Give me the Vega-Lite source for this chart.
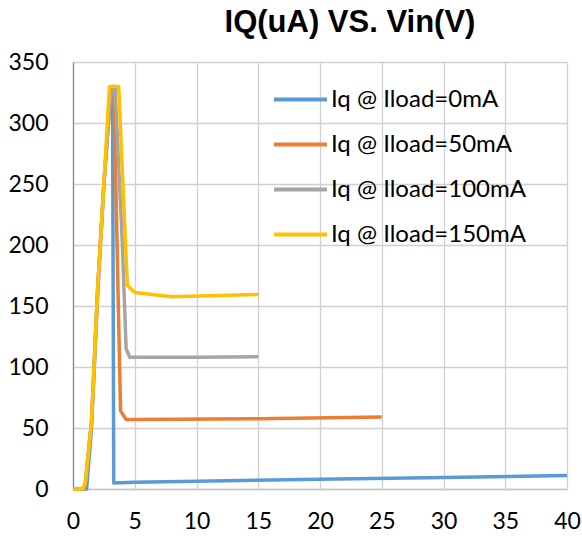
{
  "$schema": "https://vega.github.io/schema/vega-lite/v6.json",
  "width": 494,
  "height": 427,
  "autosize": "none",
  "padding": {"left": 73, "top": 62, "right": 15, "bottom": 47},
  "background": "white",
  "title": {
    "text": "IQ(uA) VS. Vin(V)",
    "font": "Liberation Sans",
    "fontSize": 31,
    "fontWeight": "bold",
    "color": "#000000",
    "anchor": "middle",
    "dx": 30,
    "offset": 12
  },
  "data": {
    "values": [
      {"vin": 0, "iq": 0, "s": "Iq @ Iload=0mA"},
      {"vin": 1.1, "iq": 0, "s": "Iq @ Iload=0mA"},
      {"vin": 1.5, "iq": 50, "s": "Iq @ Iload=0mA"},
      {"vin": 2, "iq": 160, "s": "Iq @ Iload=0mA"},
      {"vin": 2.5, "iq": 250, "s": "Iq @ Iload=0mA"},
      {"vin": 3, "iq": 318, "s": "Iq @ Iload=0mA"},
      {"vin": 3.2, "iq": 329, "s": "Iq @ Iload=0mA"},
      {"vin": 3.3, "iq": 5, "s": "Iq @ Iload=0mA"},
      {"vin": 5, "iq": 5.5, "s": "Iq @ Iload=0mA"},
      {"vin": 10, "iq": 6.3, "s": "Iq @ Iload=0mA"},
      {"vin": 20, "iq": 8, "s": "Iq @ Iload=0mA"},
      {"vin": 30, "iq": 9.5, "s": "Iq @ Iload=0mA"},
      {"vin": 40, "iq": 11, "s": "Iq @ Iload=0mA"},

      {"vin": 0, "iq": 0, "s": "Iq @ Iload=50mA"},
      {"vin": 0.9, "iq": 0, "s": "Iq @ Iload=50mA"},
      {"vin": 1.0, "iq": 5, "s": "Iq @ Iload=50mA"},
      {"vin": 1.5, "iq": 55, "s": "Iq @ Iload=50mA"},
      {"vin": 2, "iq": 165, "s": "Iq @ Iload=50mA"},
      {"vin": 2.5, "iq": 250, "s": "Iq @ Iload=50mA"},
      {"vin": 3, "iq": 320, "s": "Iq @ Iload=50mA"},
      {"vin": 3.3, "iq": 330, "s": "Iq @ Iload=50mA"},
      {"vin": 3.85, "iq": 64, "s": "Iq @ Iload=50mA"},
      {"vin": 4.3, "iq": 57, "s": "Iq @ Iload=50mA"},
      {"vin": 5, "iq": 57, "s": "Iq @ Iload=50mA"},
      {"vin": 15, "iq": 57.5, "s": "Iq @ Iload=50mA"},
      {"vin": 25, "iq": 59, "s": "Iq @ Iload=50mA"},

      {"vin": 0, "iq": 0, "s": "Iq @ Iload=100mA"},
      {"vin": 0.8, "iq": 0, "s": "Iq @ Iload=100mA"},
      {"vin": 1.0, "iq": 5, "s": "Iq @ Iload=100mA"},
      {"vin": 1.5, "iq": 55, "s": "Iq @ Iload=100mA"},
      {"vin": 2, "iq": 165, "s": "Iq @ Iload=100mA"},
      {"vin": 2.5, "iq": 250, "s": "Iq @ Iload=100mA"},
      {"vin": 3, "iq": 320, "s": "Iq @ Iload=100mA"},
      {"vin": 3.4, "iq": 330, "s": "Iq @ Iload=100mA"},
      {"vin": 4.0, "iq": 200, "s": "Iq @ Iload=100mA"},
      {"vin": 4.3, "iq": 115, "s": "Iq @ Iload=100mA"},
      {"vin": 4.6, "iq": 108, "s": "Iq @ Iload=100mA"},
      {"vin": 5, "iq": 108, "s": "Iq @ Iload=100mA"},
      {"vin": 10, "iq": 108, "s": "Iq @ Iload=100mA"},
      {"vin": 15, "iq": 108.5, "s": "Iq @ Iload=100mA"},

      {"vin": 0, "iq": 0, "s": "Iq @ Iload=150mA"},
      {"vin": 0.8, "iq": 0, "s": "Iq @ Iload=150mA"},
      {"vin": 1.0, "iq": 5, "s": "Iq @ Iload=150mA"},
      {"vin": 1.5, "iq": 55, "s": "Iq @ Iload=150mA"},
      {"vin": 2, "iq": 165, "s": "Iq @ Iload=150mA"},
      {"vin": 2.5, "iq": 250, "s": "Iq @ Iload=150mA"},
      {"vin": 2.95, "iq": 330, "s": "Iq @ Iload=150mA"},
      {"vin": 3.7, "iq": 330, "s": "Iq @ Iload=150mA"},
      {"vin": 4.4, "iq": 167, "s": "Iq @ Iload=150mA"},
      {"vin": 5, "iq": 161, "s": "Iq @ Iload=150mA"},
      {"vin": 8, "iq": 157.5, "s": "Iq @ Iload=150mA"},
      {"vin": 15, "iq": 159.5, "s": "Iq @ Iload=150mA"}
    ]
  },
  "mark": {"type": "line", "strokeWidth": 3.5, "strokeJoin": "round"},
  "encoding": {
    "x": {
      "field": "vin",
      "type": "quantitative",
      "scale": {"domain": [0, 40], "nice": false},
      "axis": {
        "title": null,
        "values": [0, 5, 10, 15, 20, 25, 30, 35, 40],
        "grid": true,
        "gridColor": "#d0d0d0",
        "gridWidth": 1.3,
        "domainColor": "#c8c8c8",
        "domainWidth": 1.3,
        "ticks": false,
        "labelFlush": false,
        "labelPadding": 21,
        "labelFont": "Lato",
        "labelFontSize": 23,
        "labelColor": "#000000"
      }
    },
    "y": {
      "field": "iq",
      "type": "quantitative",
      "scale": {"domain": [0, 350], "nice": false},
      "axis": {
        "title": null,
        "values": [0, 50, 100, 150, 200, 250, 300, 350],
        "grid": true,
        "gridColor": "#d0d0d0",
        "gridWidth": 1.3,
        "domainColor": "#8c8c8c",
        "domainWidth": 1.3,
        "ticks": false,
        "labelFlush": false,
        "labelPadding": 25,
        "labelFont": "Lato",
        "labelFontSize": 23,
        "labelColor": "#000000"
      }
    },
    "color": {
      "field": "s",
      "type": "nominal",
      "scale": {
        "domain": ["Iq @ Iload=0mA", "Iq @ Iload=50mA", "Iq @ Iload=100mA", "Iq @ Iload=150mA"],
        "range": ["#5B9BD5", "#ED7D31", "#A5A5A5", "#FFC000"]
      },
      "legend": {
        "title": null,
        "orient": "none",
        "legendX": 199,
        "legendY": 9,
        "symbolType": "stroke",
        "symbolSize": 2800,
        "symbolStrokeWidth": 4,
        "labelFont": "Lato",
        "labelFontSize": 24,
        "labelLimit": 400,
        "labelColor": "#000000",
        "labelOffset": 2,
        "rowPadding": 4
      }
    }
  },
  "config": {"view": {"stroke": null}}
}
